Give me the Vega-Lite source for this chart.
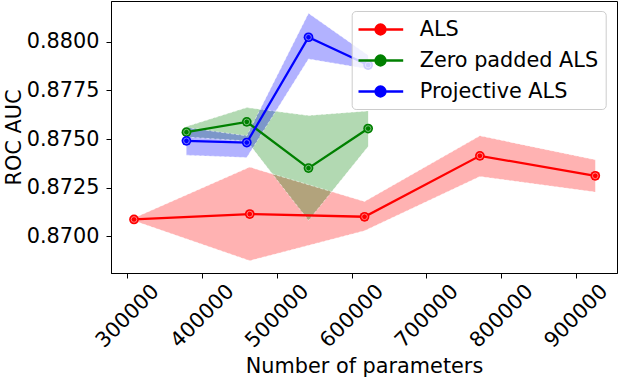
{
  "$schema": "https://vega.github.io/schema/vega-lite/v6.json",
  "width": 506,
  "height": 272,
  "autosize": {"type": "none"},
  "padding": {"left": 111, "top": 1, "right": 3, "bottom": 111},
  "config": {
    "font": "DejaVu Sans",
    "view": {"stroke": "black", "strokeWidth": 1},
    "axis": {
      "grid": false,
      "domainColor": "black",
      "domainWidth": 1,
      "tickColor": "black",
      "tickWidth": 1,
      "tickSize": 5,
      "labelColor": "black",
      "titleColor": "black",
      "labelFont": "DejaVu Sans",
      "titleFont": "DejaVu Sans",
      "labelFontSize": 20.8,
      "titleFontSize": 20.8,
      "titleFontWeight": "normal"
    },
    "axisY": {"labelPadding": 7, "titlePadding": 2},
    "legend": {
      "orient": "none",
      "legendX": 240.7,
      "legendY": 10,
      "padding": 7,
      "rowPadding": 9,
      "symbolType": "M-1.17,0L3.3,0M0.53,0A0.5,0.5,0,1,1,1.53,0A0.5,0.5,0,1,1,0.53,0Z",
      "symbolSize": 400,
      "symbolStrokeWidth": 2.2,
      "labelOffset": 38,
      "labelFont": "DejaVu Sans",
      "labelFontSize": 20.8,
      "labelColor": "black",
      "labelLimit": 0,
      "fillColor": "rgba(255,255,255,0.8)",
      "strokeColor": "#cccccc",
      "cornerRadius": 4
    }
  },
  "data": {
    "values": [
      {"series": "ALS", "params": 308830, "auc": 0.870872, "lo": 0.87080, "hi": 0.87095},
      {"series": "ALS", "params": 463680, "auc": 0.871149, "lo": 0.868754, "hi": 0.873559},
      {"series": "ALS", "params": 617180, "auc": 0.871010, "lo": 0.870292, "hi": 0.871795},
      {"series": "ALS", "params": 771490, "auc": 0.874138, "lo": 0.873077, "hi": 0.875164},
      {"series": "ALS", "params": 925800, "auc": 0.873113, "lo": 0.872277, "hi": 0.873933},
      {"series": "Zero padded ALS", "params": 378960, "auc": 0.875354, "lo": 0.87510, "hi": 0.875641},
      {"series": "Zero padded ALS", "params": 459660, "auc": 0.875882, "lo": 0.87490, "hi": 0.876615},
      {"series": "Zero padded ALS", "params": 542240, "auc": 0.873508, "lo": 0.870821, "hi": 0.876205},
      {"series": "Zero padded ALS", "params": 622000, "auc": 0.875538, "lo": 0.874615, "hi": 0.876446},
      {"series": "Projective ALS", "params": 378960, "auc": 0.874908, "lo": 0.874174, "hi": 0.875590},
      {"series": "Projective ALS", "params": 459660, "auc": 0.874821, "lo": 0.874051, "hi": 0.875164},
      {"series": "Projective ALS", "params": 542240, "auc": 0.880226, "lo": 0.879113, "hi": 0.881456},
      {"series": "Projective ALS", "params": 622000, "auc": 0.878800, "lo": 0.878600, "hi": 0.879300}
    ]
  },
  "encoding": {
    "x": {
      "field": "params",
      "type": "quantitative",
      "scale": {"domain": [278050, 954870], "nice": false, "zero": false},
      "axis": {
        "values": [300000, 400000, 500000, 600000, 700000, 800000, 900000],
        "format": "d",
        "labelAngle": -45,
        "labelAlign": "center",
        "labelBaseline": "middle",
        "labelPadding": 38,
        "labelFlush": false,
        "labelOverlap": false,
        "titlePadding": 6
      },
      "title": "Number of parameters"
    }
  },
  "layer": [
    {
      "mark": {"type": "area", "opacity": 0.3},
      "encoding": {
        "y": {"field": "lo", "type": "quantitative", "scale": {"domain": [0.868123, 0.882087], "nice": false, "zero": false}, "axis": {"values": [0.87, 0.8725, 0.875, 0.8775, 0.88], "format": ".4f"}, "title": "ROC AUC"},
        "y2": {"field": "hi"},
        "color": {"field": "series", "type": "nominal", "scale": {"domain": ["ALS", "Zero padded ALS", "Projective ALS"], "range": ["#ff0000", "#008000", "#0000ff"]}, "title": null}
      }
    },
    {
      "mark": {"type": "line", "color": "white", "strokeWidth": 1, "strokeDash": [3, 2], "opacity": 0.5},
      "encoding": {
        "y": {"field": "lo", "type": "quantitative", "axis": {"values": [0.87, 0.8725, 0.875, 0.8775, 0.88], "format": ".4f"}, "title": "ROC AUC"},
        "detail": {"field": "series"}
      }
    },
    {
      "mark": {"type": "line", "color": "white", "strokeWidth": 1, "strokeDash": [3, 2], "opacity": 0.5},
      "encoding": {
        "y": {"field": "hi", "type": "quantitative", "axis": {"values": [0.87, 0.8725, 0.875, 0.8775, 0.88], "format": ".4f"}, "title": "ROC AUC"},
        "detail": {"field": "series"}
      }
    },
    {
      "mark": {"type": "line", "strokeWidth": 2.3},
      "encoding": {
        "y": {"field": "auc", "type": "quantitative", "axis": {"values": [0.87, 0.8725, 0.875, 0.8775, 0.88], "format": ".4f"}, "title": "ROC AUC"},
        "color": {
          "field": "series",
          "type": "nominal",
          "title": null,
          "legend": {
            "encode": {
              "symbols": {
                "update": {
                  "fill": {"scale": "color", "field": "value"},
                  "stroke": {"scale": "color", "field": "value"},
                  "strokeWidth": {"value": 2.3},
                  "opacity": {"value": 1}
                }
              }
            }
          }
        }
      }
    },
    {
      "mark": {"type": "point", "shape": "circle", "filled": true, "size": 95, "opacity": 1},
      "encoding": {
        "y": {"field": "auc", "type": "quantitative", "axis": {"values": [0.87, 0.8725, 0.875, 0.8775, 0.88], "format": ".4f"}, "title": "ROC AUC"},
        "color": {"field": "series", "type": "nominal", "title": null}
      }
    },
    {
      "mark": {"type": "point", "shape": "circle", "filled": false, "size": 32, "color": "white", "strokeWidth": 0.8, "opacity": 0.6},
      "encoding": {
        "y": {"field": "auc", "type": "quantitative", "axis": {"values": [0.87, 0.8725, 0.875, 0.8775, 0.88], "format": ".4f"}, "title": "ROC AUC"}
      }
    }
  ]
}
